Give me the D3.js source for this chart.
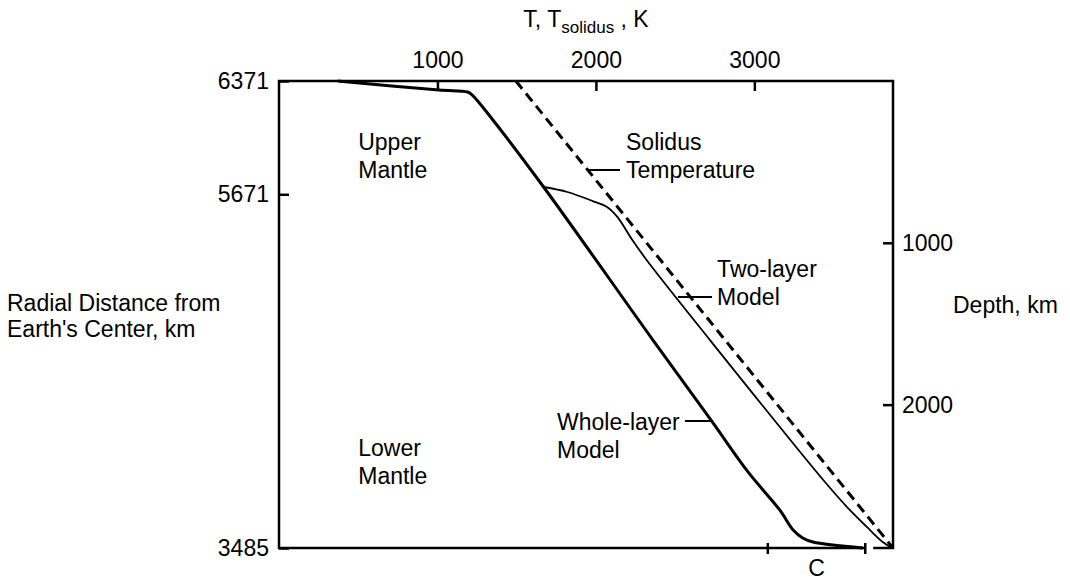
<!DOCTYPE html>
<html>
<head>
<meta charset="utf-8">
<script src="https://cdn.jsdelivr.net/npm/d3@7"></script>
<style>
body { margin: 0; background: #fff; }
text { font-family: "Liberation Sans", Arial, Helvetica, sans-serif; fill: #000; }
</style>
</head>
<body>
<div id="chart"></div>
<script>
// mantle temperature profiles vs radius

var tempTicks = [1000, 2000, 3000];
var radiusTicks = [6371, 5671, 3485];
var depthTicks = [1000, 2000];

// whole-layer model (T in K, r in km)
var wholeT = [370, 1010, 1190, 1220, 1350, 1670, 2360, 2730, 2960, 3160, 3245, 3305, 3370, 3685];
var wholeR = [6371, 6315, 6303, 6284, 6130, 5716, 4770, 4270, 3955, 3720, 3596, 3547, 3522, 3485];

// two-layer model, splits from the whole-layer curve near 5716 km
var twoT = [1670, 1820, 1980, 2070, 2135, 2230, 2320, 2720, 3435, 3585, 3710, 3810, 3870];
var twoR = [5716, 5685, 5629, 5592, 5531, 5388, 5265, 4770, 3905, 3738, 3615, 3522, 3485];

// solidus
var solidusT = [1495, 3875];
var solidusR = [6371, 3485];

// bracket "C" at the bottom
var bracketT = [3085, 3700];

var w = 1070, h = 581;
var box = {left: 279, top: 81, right: 893, bottom: 548};

var x = d3.scaleLinear().domain([0, 3875]).range([box.left, box.right]);
var y = d3.scaleLinear().domain([6371, 3485]).range([box.top, box.bottom]);
var yDepth = d3.scaleLinear().domain([0, 6371 - 3485]).range([box.top, box.bottom]);

var svg = d3.select("#chart")
            .append("svg")
            .attr("width", w)
            .attr("height", h);

var fs = 23;

// frame (bottom edge has a small gap after the bracket)
var frame = svg.append("g")
               .attr("stroke", "#000")
               .attr("stroke-width", 2.5)
               .attr("fill", "none");
frame.append("path")
     .attr("d", "M" + x(3700) + "," + y(3485) + "H" + box.left + "V" + box.top + "H" + box.right + "V" + box.bottom + "H" + x(3750));

// axes
function styleAxis(g) {
  g.select(".domain").remove();
  g.selectAll("line").attr("stroke", "#000").attr("stroke-width", 2.5);
  g.selectAll("text").attr("font-size", fs).attr("font-family", null);
}

svg.append("g")
   .attr("transform", "translate(0," + box.top + ")")
   .call(d3.axisTop(x).tickValues(tempTicks).tickSize(-10).tickPadding(13).tickFormat(d3.format("d")))
   .call(styleAxis);

svg.append("g")
   .attr("transform", "translate(" + box.left + ",0)")
   .call(d3.axisLeft(y).tickValues(radiusTicks).tickSize(-10).tickPadding(10).tickFormat(d3.format("d")))
   .call(styleAxis);

svg.append("g")
   .attr("transform", "translate(" + box.right + ",0)")
   .call(d3.axisRight(yDepth).tickValues(depthTicks).tickSize(-10).tickPadding(9).tickFormat(d3.format("d")))
   .call(styleAxis);

// curves
var line = d3.line()
             .x(function(d){ return x(d[0]); })
             .y(function(d){ return y(d[1]); })
             .curve(d3.curveCatmullRom.alpha(0.5));

svg.append("path")
   .attr("d", line(d3.zip(twoT, twoR)))
   .attr("fill", "none")
   .attr("stroke", "#000")
   .attr("stroke-width", 1.8);

svg.append("path")
   .attr("d", line(d3.zip(wholeT, wholeR)))
   .attr("fill", "none")
   .attr("stroke", "#000")
   .attr("stroke-width", 3);

svg.append("path")
   .attr("d", d3.line().x(function(d){ return x(d[0]); }).y(function(d){ return y(d[1]); })(d3.zip(solidusT, solidusR)))
   .attr("fill", "none")
   .attr("stroke", "#000")
   .attr("stroke-width", 3)
   .attr("stroke-dasharray", "10,6");

// bracket C
var brk = svg.append("g").attr("stroke", "#000").attr("stroke-width", 2.5);
bracketT.forEach(function(t){
  brk.append("line")
     .attr("x1", x(t)).attr("x2", x(t))
     .attr("y1", y(3485) - 5).attr("y2", y(3485) + 6);
});
svg.append("text")
   .attr("x", x(d3.mean(bracketT)))
   .attr("y", y(3485) + 28)
   .attr("text-anchor", "middle")
   .attr("font-size", fs)
   .text("C");

// labels, anchored in data coordinates
var labels = [
  {t: 500,  r: 5945, lines: ["Upper", "Mantle"]},
  {t: 500,  r: 4054, lines: ["Lower", "Mantle"]},
  {t: 2190, r: 5945, lines: ["Solidus", "Temperature"]},
  {t: 2765, r: 5160, lines: ["Two-layer", "Model"]},
  {t: 1755, r: 4214, lines: ["Whole-layer", "Model"]}
];

labels.forEach(function(l){
  var tx = svg.append("text")
              .attr("x", x(l.t))
              .attr("y", y(l.r))
              .attr("font-size", fs);
  l.lines.forEach(function(s, i){
    tx.append("tspan")
      .attr("x", x(l.t))
      .attr("dy", i === 0 ? 0 : 28)
      .text(s);
  });
});

// leader lines
var leaders = [
  {t1: 1950, t2: 2152, r: 5821},
  {t1: 2518, t2: 2733, r: 5036},
  {t1: 2562, t2: 2733, r: 4270}
];
svg.selectAll(".leader")
   .data(leaders)
   .enter()
   .append("line")
   .attr("class", "leader")
   .attr("x1", function(d){ return x(d.t1); })
   .attr("x2", function(d){ return x(d.t2); })
   .attr("y1", function(d){ return y(d.r); })
   .attr("y2", function(d){ return y(d.r); })
   .attr("stroke", "#000")
   .attr("stroke-width", 2);

// axis titles
var title = svg.append("text")
               .attr("x", (box.left + box.right) / 2)
               .attr("y", 27)
               .attr("text-anchor", "middle")
               .attr("font-size", fs);
title.append("tspan").text("T, T");
title.append("tspan").attr("font-size", 17).attr("dy", 6).text("solidus");
title.append("tspan").attr("dy", -6).text(" , K");

var leftTitle = svg.append("text")
                   .attr("x", 7)
                   .attr("y", 311)
                   .attr("font-size", fs);
leftTitle.append("tspan").attr("x", 7).text("Radial Distance from");
leftTitle.append("tspan").attr("x", 7).attr("dy", 26).text("Earth's Center, km");

svg.append("text")
   .attr("x", 953)
   .attr("y", 313)
   .attr("font-size", fs)
   .text("Depth, km");
</script>
</body>
</html>
